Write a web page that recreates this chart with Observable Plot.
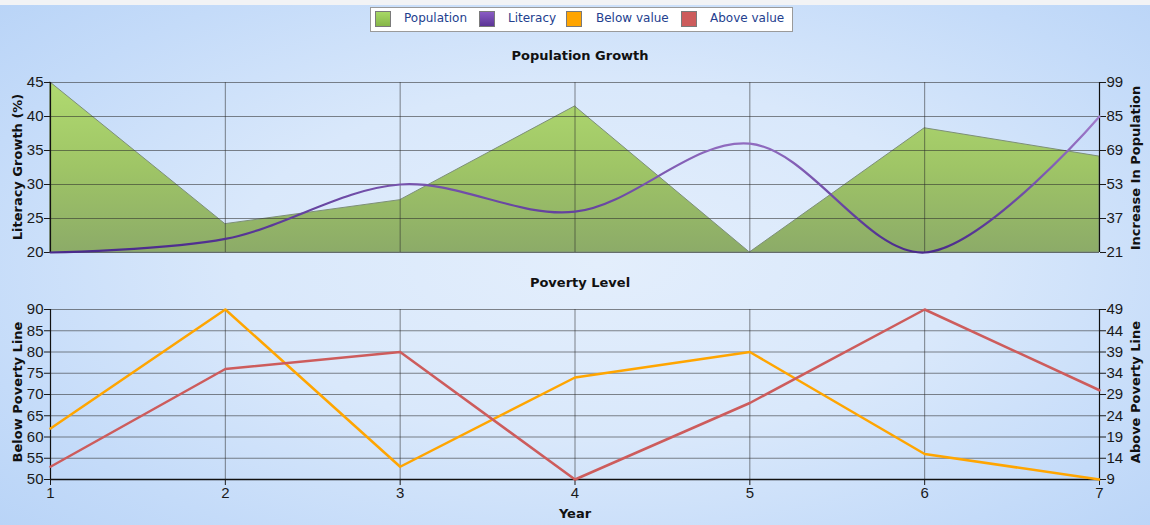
<!DOCTYPE html>
<html><head><meta charset="utf-8">
<script src="https://cdn.jsdelivr.net/npm/d3@7"></script>
<script src="https://cdn.jsdelivr.net/npm/@observablehq/plot@0.6"></script>
<style>
html,body{margin:0;padding:0;}
body{width:1150px;height:525px;overflow:hidden;}
#chart{position:relative;width:1150px;height:525px;overflow:hidden;
  background:radial-gradient(ellipse 70% 75% at 52% 50%, #e3eefc 0%, #d9e8fb 45%, #c4dbf9 80%, #b9d4f7 100%);
  font-family:"Liberation Sans",Arial,sans-serif;}
#topstrip{position:absolute;left:0;top:0;width:1150px;height:5px;background:#f2f3f5;}
.layer{position:absolute;left:0;}
.title{position:absolute;font-family:"DejaVu Sans",Verdana,sans-serif;font-weight:bold;font-size:13px;color:#111;white-space:nowrap;transform:translate(-50%,-50%);}
.vlabel{position:absolute;font-family:"DejaVu Sans",Verdana,sans-serif;font-weight:bold;font-size:13px;color:#111;white-space:nowrap;transform:translate(-50%,-50%) rotate(-90deg);}
#legend{position:absolute;left:370px;top:7px;width:421px;height:23px;background:#fff;border:1px solid #9a9a9a;
  font-family:"DejaVu Sans",Verdana,sans-serif;font-size:12px;color:#23408e;}
.sw{position:absolute;top:3px;width:16px;height:16px;box-sizing:border-box;border:1px solid #7a7a7a;}
.lt{position:absolute;top:3px;white-space:nowrap;}
</style></head>
<body>
<div id="chart">
  <div id="topstrip"></div>
</div>
<script>
// ---- data ----
const years = [1, 2, 3, 4, 5, 6, 7];
const population = [99, 34, 45, 88, 21, 78, 65];     // right axis, top panel
const literacy = [20, 22, 30, 26, 36, 20, 40];       // left axis, top panel
const belowValue = [62, 90, 53, 74, 80, 56, 50];     // left axis, bottom panel
const aboveValue = [12, 35, 39, 9, 27, 49, 30];      // right axis, bottom panel
const literacyTicks = [20, 25, 30, 35, 40, 45];
const populationTickLabels = ["21", "37", "53", "69", "85", "99"];
const belowTicks = [50, 55, 60, 65, 70, 75, 80, 85, 90];
const aboveTicks = [9, 14, 19, 24, 29, 34, 39, 44, 49];
const seriesNames = ["Population", "Literacy", "Below value", "Above value"];
const seriesColors = ["#93c657", "#6b44a8", "#ffa500", "#cd5c5c"];

const topData = years.map((y, i) => ({year: y, population: population[i], literacy: literacy[i]}));
const botData = years.map((y, i) => ({year: y, below: belowValue[i], above: aboveValue[i]}));

const chart = document.getElementById("chart");
const W = 1150, ML = 50, MR = 51;
const baseStyle = {background: "transparent", fontFamily: "'Liberation Sans', Arial, sans-serif", fontSize: "15px", color: "#1a1a1a", overflow: "visible"};
const gridStroke = "#2a2a2a", gridOpacity = 0.55;

function addLayer(svg, top) {
  svg.classList.add("layer");
  svg.style.top = top + "px";
  chart.appendChild(svg);
}

// ---- top panel: population area (right scale) ----
const popMin = 21, popMax = 99;
const popTickPos = d3.range(6).map(i => popMin + i * (popMax - popMin) / 5);
const topA = Plot.plot({
  width: W, height: 260, marginTop: 82, marginBottom: 8, marginLeft: ML, marginRight: MR,
  style: baseStyle,
  x: {domain: [1, 7], axis: null},
  y: {domain: [popMin, popMax]},
  marks: [
    () => {
      const defs = d3.create("svg:defs");
      const g = defs.append("linearGradient").attr("id", "popGrad").attr("x1", 0).attr("x2", 0).attr("y1", 0).attr("y2", 1);
      g.append("stop").attr("offset", "0%").attr("stop-color", "#b0da70");
      g.append("stop").attr("offset", "50%").attr("stop-color", "#9fc566");
      g.append("stop").attr("offset", "100%").attr("stop-color", "#8cab68");
      return defs.node();
    },
    Plot.areaY(topData, {x: "year", y1: popMin, y2: "population", fill: "url(#popGrad)", stroke: "#7d8f78", strokeWidth: 1}),
    Plot.axisY({anchor: "right", ticks: popTickPos, tickFormat: (d, i) => populationTickLabels[i], tickSize: 6, tickPadding: 1, label: null, fontSize: 15})
  ]
});
addLayer(topA, 0);

// ---- top panel: grid, left axis, literacy line ----
const topB = Plot.plot({
  width: W, height: 260, marginTop: 82, marginBottom: 8, marginLeft: ML, marginRight: MR,
  style: baseStyle,
  x: {domain: [1, 7], axis: null},
  y: {domain: [20, 45]},
  marks: [
    () => {
      const defs = d3.create("svg:defs");
      const g = defs.append("linearGradient").attr("id", "litGrad").attr("gradientUnits", "userSpaceOnUse")
        .attr("x1", 0).attr("x2", 0).attr("y1", 82).attr("y2", 252);
      g.append("stop").attr("offset", "0%").attr("stop-color", "#b890dc");
      g.append("stop").attr("offset", "100%").attr("stop-color", "#4a2a8c");
      return defs.node();
    },
    Plot.gridX({ticks: years, stroke: gridStroke, strokeOpacity: gridOpacity}),
    Plot.gridY({ticks: literacyTicks, stroke: gridStroke, strokeOpacity: gridOpacity}),
    Plot.ruleX([1, 7], {stroke: "#111", strokeWidth: 1.2}),
    Plot.axisY({anchor: "left", ticks: literacyTicks, tickFormat: d => d, tickSize: 6, tickPadding: 1, label: null, fontSize: 15}),
    Plot.line(topData, {x: "year", y: "literacy", curve: "catmull-rom", stroke: "url(#litGrad)", strokeWidth: 2.2})
  ]
});
addLayer(topB, 0);

// ---- bottom panel: grid, left axis, x axis, below value ----
const botD = Plot.plot({
  width: W, height: 265, marginTop: 49, marginBottom: 46, marginLeft: ML, marginRight: MR,
  style: baseStyle,
  x: {domain: [1, 7]},
  y: {domain: [50, 90]},
  marks: [
    Plot.gridX({ticks: years, stroke: gridStroke, strokeOpacity: gridOpacity}),
    Plot.gridY({ticks: belowTicks, stroke: gridStroke, strokeOpacity: gridOpacity}),
    Plot.ruleX([1, 7], {stroke: "#111", strokeWidth: 1.2}),
    Plot.ruleY([50], {stroke: "#111", strokeWidth: 1.6}),
    Plot.axisY({anchor: "left", ticks: belowTicks, tickFormat: d => d, tickSize: 6, tickPadding: 1, label: null, fontSize: 15}),
    Plot.axisX({ticks: years, tickFormat: d => d, tickSize: 6, tickPadding: 2, label: null, fontSize: 15}),
    Plot.line(botData, {x: "year", y: "below", stroke: seriesColors[2], strokeWidth: 2.5})
  ]
});
addLayer(botD, 260);

// ---- bottom panel: above value (right scale) ----
const botC = Plot.plot({
  width: W, height: 265, marginTop: 49, marginBottom: 46, marginLeft: ML, marginRight: MR,
  style: baseStyle,
  x: {domain: [1, 7], axis: null},
  y: {domain: [9, 49]},
  marks: [
    Plot.axisY({anchor: "right", ticks: aboveTicks, tickFormat: d => d, tickSize: 6, tickPadding: 1, label: null, fontSize: 15}),
    Plot.line(botData, {x: "year", y: "above", stroke: seriesColors[3], strokeWidth: 2.5})
  ]
});
addLayer(botC, 260);

// ---- texts ----
function addText(cls, text, x, y) {
  const d = document.createElement("div");
  d.className = cls; d.textContent = text;
  d.style.left = x + "px"; d.style.top = y + "px";
  chart.appendChild(d);
}
addText("title", "Population Growth", 580, 55);
addText("title", "Poverty Level", 580, 282);
addText("title", "Year", 575, 513);
addText("vlabel", "Literacy Growth (%)", 17, 167);
addText("vlabel", "Increase In Population", 1135, 168);
addText("vlabel", "Below Poverty Line", 17, 392);
addText("vlabel", "Above Poverty Line", 1135, 392);

// ---- legend ----
const legend = document.createElement("div");
legend.id = "legend";
const swX = [4, 108, 195, 310];
const txX = [33, 137, 225, 339];
seriesNames.forEach((name, i) => {
  const s = document.createElement("div");
  s.className = "sw"; s.style.left = swX[i] + "px";
  s.style.background = i === 0 ? "linear-gradient(#a8d866, #86b648)" : i === 1 ? "linear-gradient(#8a5cc4, #5c3596)" : seriesColors[i];
  legend.appendChild(s);
  const t = document.createElement("div");
  t.className = "lt"; t.style.left = txX[i] + "px"; t.textContent = name;
  legend.appendChild(t);
});
chart.appendChild(legend);
</script>
</body></html>
